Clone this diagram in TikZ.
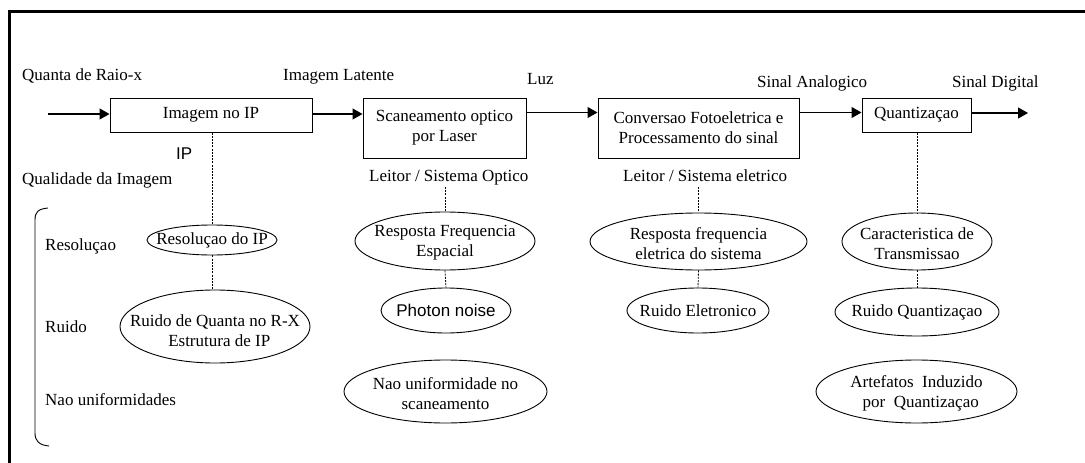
\documentclass[tikz,border=0pt]{standalone}
\usepackage{fontspec}
\setmainfont{Liberation Serif}
\newfontfamily\arialfont{Liberation Sans}
\usetikzlibrary{shapes.geometric,arrows.meta}
\begin{document}
\begin{tikzpicture}[x=1pt,y=-1pt,
  every node/.style={font=\fontsize{17}{20}\selectfont},
  stage/.style={draw,line width=1pt,inner sep=0pt,align=center},
  oval/.style={draw,ellipse,line width=0.9pt,inner sep=0pt},
  ovaltext/.style={inner sep=0pt,align=center},
  lbl/.style={inner sep=0pt,anchor=base west},
  flow/.style={line width=1.2pt,-{Triangle[length=10pt,width=11pt]}},
  dots/.style={line width=0.8pt,dash pattern=on 2pt off 1.2pt},
  frame/.style={line width=3pt}]
\useasboundingbox (0,0) rectangle (1085,463);

% outer frame (top and left edges)
\draw[frame] (8,11) -- (1085,11);
\draw[frame] (9.5,10) -- (9.5,463);

% processing chain
\node[stage,minimum width=202pt,minimum height=34pt] (ip) at (211,115) {Imagem no IP};
\node[stage,minimum width=163pt,minimum height=60pt] (scan) at (444.5,128) {Scaneamento optico\\ por Laser};
\node[stage,minimum width=201pt,minimum height=60pt] (conv) at (698.5,128) {Conversao Fotoeletrica e\\Processamento do sinal};
\node[stage,minimum width=109pt,minimum height=34pt] (quant) at (916.5,115) {Quantizaçao};

\coordinate (in) at (48,114);
\coordinate (out) at (1028,113);

\draw[flow] (in) -- (ip.west |- in);
\draw[flow] ([yshift=1pt]ip.east) -- ([yshift=1pt]ip.east -| scan.west);
\draw[flow] ([yshift=-15pt]scan.north east) -- ([yshift=-15pt]conv.north west);
\draw[flow] ([yshift=-15pt]conv.north east) -- ([yshift=-15pt]quant.north west);
\draw[flow] (quant.east |- out) -- (out);

% signal labels
\node[lbl] (lq) at (22,80) {Quanta de Raio-x};
\node[lbl] (ll) at (283,80) {Imagem Latente};
\node[lbl] (lz) at (527,84) {Luz};
\node[lbl] (la) at (757,87) {Sinal Analogico};
\node[lbl] (ld) at (952,87) {Sinal Digital};

% subsystem labels
\node[lbl,font=\arialfont\fontsize{17}{20}\selectfont] (lip) at (176,159) {IP};
\node[lbl] (lqi) at (22,184) {Qualidade da Imagem};
\node[lbl] (lso) at (369,181) {Leitor / Sistema Optico};
\node[lbl] (lse) at (623,181) {Leitor / Sistema eletrico};

% quality categories
\node[lbl] (cr) at (45,250) {Resoluçao};
\node[lbl] (cn) at (45,332) {Ruido};
\node[lbl] (cu) at (45,405) {Nao uniformidades};
\draw[line width=0.9pt] (48,208) .. controls (38,209) and (35,212) .. (35,220)
  -- (35,433) .. controls (35,441) and (39,445) .. (49,446);

% quality factors per stage
\node[oval,minimum width=130pt,minimum height=30pt] (e11) at (212,240) {};
\node[ovaltext] at (e11) {Resoluçao do IP};
\node[oval,minimum width=190pt,minimum height=73pt] (e12) at (215,326.5) {};
\node[ovaltext] at ([yshift=-4pt]e12.center) {Ruido de Quanta no R-X\\ \ \ Estrutura de IP};

\node[oval,minimum width=180pt,minimum height=58pt] (e21) at (445,241) {};
\node[ovaltext] at ([yshift=-2pt]e21.center) {Resposta Frequencia\\Espacial};
\node[oval,minimum width=130pt,minimum height=45pt] (e22) at (446,310.5) {};
\node[ovaltext,font=\arialfont\fontsize{17}{20}\selectfont] at (e22) {Photon noise};
\node[oval,minimum width=203pt,minimum height=63pt] (e23) at (445.5,391.5) {};
\node[ovaltext] at ([yshift=-2pt]e23.center) {Nao uniformidade no\\scaneamento};

\node[oval,minimum width=217pt,minimum height=57pt] (e31) at (698.5,241.5) {};
\node[ovaltext] at ([yshift=-2pt]e31.center) {Resposta frequencia\\eletrica do sistema};
\node[oval,minimum width=142pt,minimum height=45pt] (e32) at (698,310.5) {};
\node[ovaltext] at (e32) {Ruido Eletronico};

\node[oval,minimum width=150pt,minimum height=57pt] (e41) at (917,241.5) {};
\node[ovaltext] at ([yshift=-2pt]e41.center) {Caracteristica de\\Transmissao};
\node[oval,minimum width=164pt,minimum height=48pt] (e42) at (917,312) {};
\node[ovaltext] at (e42) {Ruido Quantizaçao};
\node[oval,minimum width=201pt,minimum height=63pt] (e43) at (916.5,391.5) {};
\node[ovaltext] at ([yshift=-2pt]e43.center) {Artefatos\ \ Induzido\\ \ \ por\ \ Quantizaçao};

% dotted links from stages to their factors
\draw[dots] (ip.south -| e11.north) -- (e11.north);
\draw[dots] (e11.south) -- (e12.north -| e11.south);
\draw[dots] ([yshift=-6pt]lso.base -| e21.north) -- (e21.north);
\draw[dots] (e21.south) -- (e22.north);
\draw[dots] ([yshift=-6pt]lse.base -| e31.north) -- (e31.north);
\draw[dots] (e31.south) -- (e32.north);
\draw[dots] (quant.south -| e41.north) -- (e41.north);
\draw[dots] (e41.south) -- (e42.north);
\end{tikzpicture}
\end{document}
